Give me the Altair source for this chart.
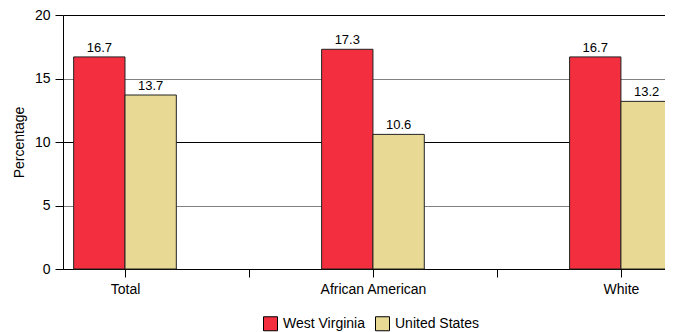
import altair as alt
import pandas as pd

categories = ["Total", "African American", "White"]
series = ["West Virginia", "United States"]
west_virginia = [16.7, 17.3, 16.7]
united_states = [13.7, 10.6, 13.2]
colors = ["#F32E3E", "#E8DA94"]

rows = []
for i, c in enumerate(categories):
    for s, vals in enumerate([west_virginia, united_states]):
        rows.append({"category": c, "idx": i, "series": series[s], "s": s, "value": vals[i]})
df = pd.DataFrame(rows)

BAR_W = 0.207
FONT = "Liberation Sans"

label_expr = " : ".join(
    [f"datum.value == {i} ? '{c}'" for i, c in enumerate(categories)]
) + " : ''"

xscale = alt.Scale(domain=[-0.25, 2.21], nice=False, zero=False)
yscale = alt.Scale(domain=[0, 20], nice=False)

base = alt.Chart(df).transform_calculate(
    x1=f"datum.idx + (datum.s - 1) * {BAR_W}",
    x2=f"datum.idx + datum.s * {BAR_W}",
    xc=f"datum.idx + (datum.s - 0.5) * {BAR_W}",
)

bars = base.mark_bar(stroke="#222222", strokeWidth=1).encode(
    x=alt.X(
        "x1:Q",
        scale=xscale,
        axis=alt.Axis(
            values=[0, 0.5, 1, 1.5, 2],
            labelExpr=label_expr,
            title=None,
            grid=False,
            domainColor="#000000",
            tickColor="#000000",
            tickSize=8,
            labelPadding=5,
            labelFontSize=14,
            labelColor="#000000",
            labelFont=FONT,
        ),
    ),
    x2="x2:Q",
    y=alt.Y(
        "value:Q",
        scale=yscale,
        axis=alt.Axis(
            values=[0, 5, 10, 15, 20],
            title="Percentage",
            titleFontSize=14,
            titleFont=FONT,
            titleFontWeight="normal",
            titleColor="#000000",
            titlePadding=8,
            grid=True,
            gridColor={
                "condition": {"test": "datum.value % 10 === 0", "value": "#000000"},
                "value": "#808080",
            },
            gridWidth=1,
            domainColor="#000000",
            tickColor="#000000",
            tickSize=8,
            labelPadding=5,
            labelFontSize=14,
            labelColor="#000000",
            labelFont=FONT,
        ),
    ),
    y2=alt.datum(0),
    fill=alt.Fill(
        "series:N",
        scale=alt.Scale(domain=series, range=colors),
        legend=alt.Legend(
            title=None,
            orient="none",
            direction="horizontal",
            legendX=200,
            legendY=301,
            symbolType="square",
            symbolSize=196,
            symbolStrokeColor="#000000",
            symbolStrokeWidth=1,
            symbolOpacity=1,
            labelFontSize=14,
            labelFont=FONT,
            labelColor="#000000",
            labelOffset=5,
            columnPadding=8,
        ),
    ),
)

labels = base.mark_text(
    baseline="alphabetic", dy=-5, fontSize=13, font=FONT, color="#000000"
).encode(
    x=alt.X("xc:Q", scale=xscale),
    y=alt.Y("value:Q", scale=yscale),
    text=alt.Text("value:Q", format=".1f"),
)

chart = (
    alt.layer(bars, labels)
    .properties(
        width=610,
        height=254,
        autosize=alt.AutoSizeParams(type="none"),
        padding={"left": 55, "top": 7, "right": -8, "bottom": 63},
    )
    .configure_view(stroke=None)
    .configure(background="#ffffff")
)

chart.save("out.html", embed_options={"renderer": "svg", "actions": False})
